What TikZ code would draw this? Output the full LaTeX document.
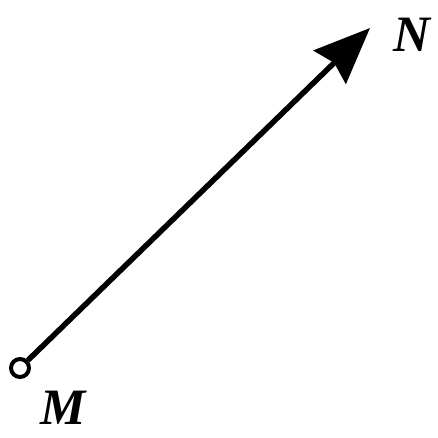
\documentclass[tikz,border=0pt]{standalone}
\usepackage{fontspec}
\setmainfont{Liberation Serif}
\usepackage{tikz}
\usetikzlibrary{arrows.meta}
\newcommand{\ptfont}{\fontsize{51}{60}\selectfont\bfseries\itshape}

\begin{document}
\begin{tikzpicture}[x=1pt,y=-1pt,
  ptlabel/.style={inner sep=0pt, font=\ptfont},
  vecline/.style={line width=5.5pt, -{Stealth[length=56pt,width=46pt,inset=6pt]}}]
\useasboundingbox (0,0) rectangle (438,437);
\node[draw, circle, line width=4pt, minimum size=18pt, inner sep=0pt, fill=white] (M) at (20,368) {};
\coordinate (Ntip) at (370,28);
\draw[vecline] (M) -- (Ntip);
\node[ptlabel] (Mlabel) at (63,408) {M};
\node[ptlabel] (Nlabel) at (412,35) {N};
\end{tikzpicture}
\end{document}
